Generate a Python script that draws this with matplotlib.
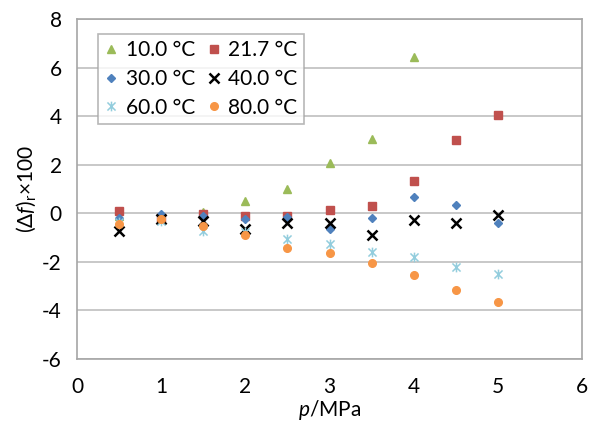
import matplotlib
matplotlib.use("Agg")
import matplotlib.pyplot as plt
from matplotlib.path import Path

plt.rcParams.update({
    "font.family": ["Lato", "DejaVu Sans"],
    "font.size": 15,
    "axes.unicode_minus": False,
    "mathtext.fontset": "custom",
    "mathtext.rm": "Lato",
    "mathtext.it": "Lato:italic",
})

GRID = "#bfbfbf"
FRAME = "#a6a6a6"

p = [0.5, 1.0, 1.5, 2.0, 2.5, 3.0, 3.5, 4.0, 4.5, 5.0]
p10 = [0.5, 1.0, 1.5, 2.0, 2.5, 3.0, 3.5, 4.0]

t10 = [-0.1, -0.2, 0.05, 0.5, 0.98, 2.08, 3.07, 6.45]
t21 = [0.08, -0.18, -0.04, -0.11, -0.1, 0.12, 0.3, 1.33, 3.02, 4.05]
t30 = [-0.18, -0.04, -0.11, -0.22, -0.15, -0.66, -0.2, 0.67, 0.33, -0.38]
t40 = [-0.73, -0.25, -0.32, -0.63, -0.38, -0.42, -0.89, -0.29, -0.38, -0.07]
t60 = [-0.35, -0.3, -0.73, -0.75, -1.07, -1.27, -1.59, -1.78, -2.23, -2.48]
t80 = [-0.45, -0.22, -0.52, -0.89, -1.41, -1.64, -2.05, -2.53, -3.15, -3.67]

# Excel-style star: an x with a vertical bar through it
star = Path([(-1, -1), (1, 1), (-1, 1), (1, -1), (0, -1.2), (0, 1.2)],
            [Path.MOVETO, Path.LINETO, Path.MOVETO, Path.LINETO, Path.MOVETO, Path.LINETO])

fig = plt.figure(figsize=(5.9, 4.28), dpi=100)
ax = fig.add_axes([0.1305, 0.1612, 0.856, 0.7944])

h10, = ax.plot(p10, t10, "^", color="#9bbb59", ms=6, ls="none", label="10.0 °C")
h21, = ax.plot(p, t21, "s", color="#c0504d", ms=5.5, ls="none", label="21.7 °C")
h30, = ax.plot(p, t30, "D", color="#4f81bd", ms=4.5, ls="none", label="30.0 °C")
h40, = ax.plot(p, t40, "x", color="black", ms=6.5, mew=1.8, ls="none", label="40.0 °C")
h60, = ax.plot(p, t60, marker=star, color="#93cddd", ms=7, mew=1.1, ls="none", label="60.0 °C")
h80, = ax.plot(p, t80, "o", color="#f79646", ms=5.5, ls="none", label="80.0 °C")

ax.set_xlim(0, 6)
ax.set_ylim(-6, 8)
ax.set_xticks(range(0, 7))
ax.set_yticks(range(-6, 9, 2))
ax.yaxis.grid(True, color=GRID, lw=1.2)
ax.set_axisbelow(True)
for s in ax.spines.values():
    s.set_color(FRAME)
    s.set_linewidth(1.2)
ax.tick_params(length=0, labelsize=15, pad=13)
ax.tick_params(axis="y", pad=11)

ax.set_xlabel(r"$\mathit{p}$/MPa", fontsize=15, labelpad=1)
ax.set_ylabel(r"$(\Delta \mathit{f})_{\mathrm{r}}$×100", fontsize=15, labelpad=3)

# row-wise order as in the original: matplotlib fills columns first
order = [h10, h30, h60, h21, h40, h80]
leg = ax.legend(order, [h.get_label() for h in order], ncol=2, loc="upper left",
                bbox_to_anchor=(0.041, 0.956), borderaxespad=0, fontsize=15,
                frameon=True, fancybox=False, handlelength=0.7, handletextpad=0.35,
                columnspacing=0.55, labelspacing=0.42, borderpad=0.3)
leg.get_frame().set_edgecolor(FRAME)
leg.get_frame().set_linewidth(1.2)

fig.savefig("out.png", dpi=100)
